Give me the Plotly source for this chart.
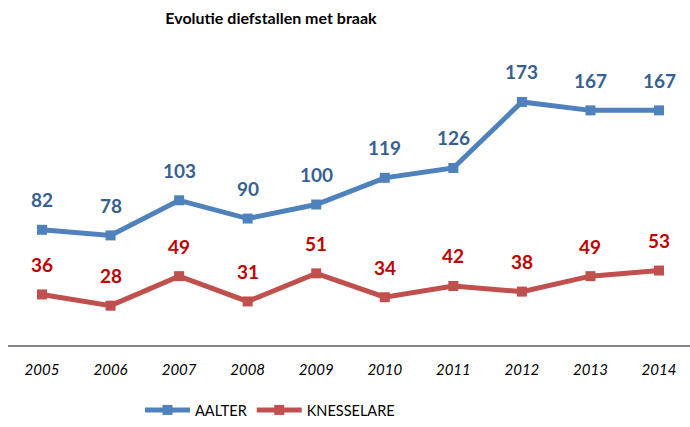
import plotly.graph_objects as go

years = [2005, 2006, 2007, 2008, 2009, 2010, 2011, 2012, 2013, 2014]
aalter = [82, 78, 103, 90, 100, 119, 126, 173, 167, 167]
knesselare = [36, 28, 49, 31, 51, 34, 42, 38, 49, 53]

blue_line = "#4F81BD"
red_line = "#C0504D"
blue_txt = "#376092"
red_txt = "#C00000"
FONT = "Lato"

fig = go.Figure()
fig.add_trace(go.Scatter(x=years, y=aalter, name="AALTER", mode="lines+markers",
                         line=dict(color=blue_line, width=5),
                         marker=dict(symbol="square", size=10, color=blue_line)))
fig.add_trace(go.Scatter(x=years, y=knesselare, name="KNESSELARE", mode="lines+markers",
                         line=dict(color=red_line, width=5),
                         marker=dict(symbol="square", size=10, color=red_line)))

ann = []
for series, col in ((aalter, blue_txt), (knesselare, red_txt)):
    for x, v in zip(years, series):
        ann.append(dict(x=x, y=v, text=f"<b>{v}</b>", showarrow=False, yshift=30,
                        font=dict(family=FONT, size=19, color=col)))

fig.update_layout(
    width=690, height=427,
    margin=dict(l=8, r=0, t=64, b=82, autoexpand=False),
    paper_bgcolor="white", plot_bgcolor="white",
    title=dict(text="<b>Evolutie diefstallen met braak</b>", x=266 / 690, xanchor="center",
               xref="paper", y=1 - 18 / 427, yanchor="middle",
               font=dict(family=FONT, size=16, color="black")),
    xaxis=dict(range=[2005 - 0.496, 2014 + 0.452], tickmode="array", tickvals=years,
               ticktext=[f"<i>{y}</i>" for y in years], showgrid=False, zeroline=False,
               showline=True, linecolor="#868686", linewidth=2, ticks="",
               tickfont=dict(family=FONT, size=15, color="black"), automargin=False,
               ticklabelstandoff=10),
    yaxis=dict(range=[0, 200], visible=False, showgrid=False, zeroline=False, automargin=False),
    legend=dict(orientation="h", x=(140 - 8) / 682, xanchor="left", y=-65 / 281, yanchor="middle",
                font=dict(family=FONT, size=14.5, color="black"), itemwidth=45,
                tracegroupgap=0),
    annotations=ann,
    showlegend=True,
)
fig.write_html("out.html", config={"displayModeBar": False},
               post_script="document.body.style.margin='0px';document.body.style.overflow='hidden';")
